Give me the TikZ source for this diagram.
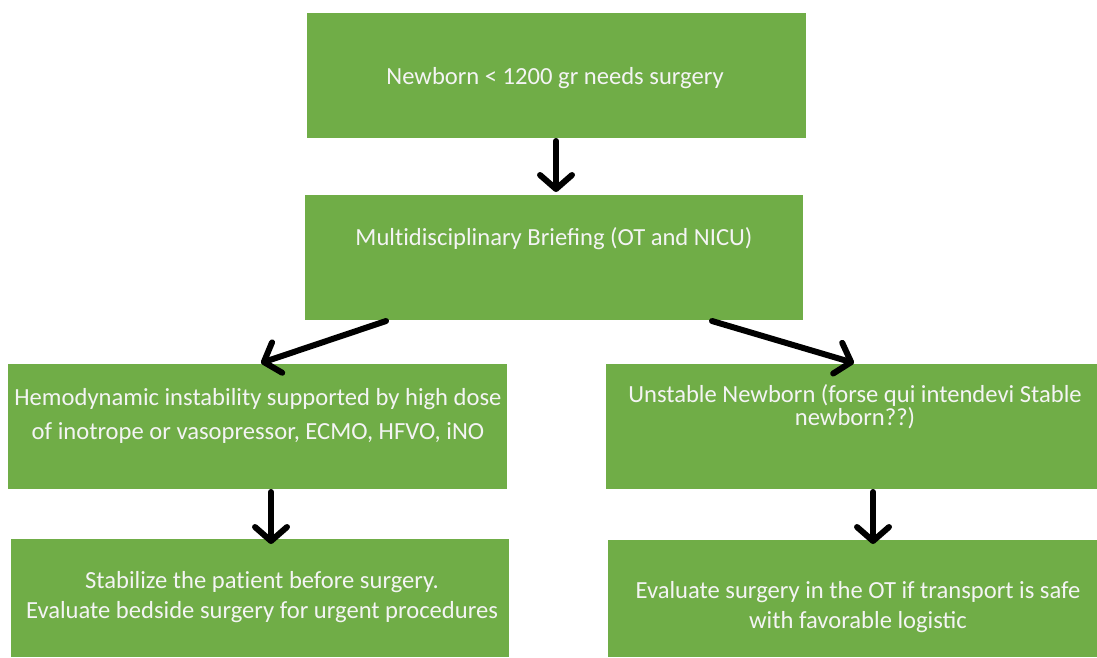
\documentclass[tikz,border=0pt]{standalone}
\usepackage{fontspec}
\setmainfont{Carlito}
\usetikzlibrary{arrows.meta,calc}
\definecolor{boxgreen}{HTML}{70AD47}
\definecolor{txt}{HTML}{F4F4F4}
\newcommand{\nl}{\kern0pt}
\tikzset{
  box/.style={fill=boxgreen, draw=none, inner sep=0pt, anchor=north west},
  lbl/.style={text=txt, align=center, font=\fontsize{24.6}{30}\selectfont, inner sep=0pt},
  flow/.style={line width=6pt, -{Straight Barb[length=14pt,width=32pt,line cap=round,line join=round]}, line cap=round}
}
\begin{document}
\begin{tikzpicture}[x=1pt,y=-1pt]
\useasboundingbox (0,0) rectangle (1097,657);
\node[box, minimum width=499pt, minimum height=125pt] (b1) at (307,13) {};
\node[box, minimum width=498pt, minimum height=125pt] (b2) at (305,195) {};
\node[box, minimum width=499pt, minimum height=125pt] (b3) at (8,364) {};
\node[box, minimum width=491pt, minimum height=125pt] (b4) at (606,364) {};
\node[box, minimum width=498pt, minimum height=118pt] (b5) at (11,539) {};
\node[box, minimum width=489pt, minimum height=117pt] (b6) at (608,540) {};

\node[lbl] (t1) at (555,78) {Newborn < 1200 gr needs surgery};
\node[lbl] (t2) at (554,239) {Mult\nl idisciplinary Briefing (OT and NICU)};
\node[lbl, font=\fontsize{24.6}{34}\selectfont] (t3) at (258,416) {Hemodynamic instability supported by high dose\\of inotrope or vasopressor, ECMO, HFVO, iNO};
\node[lbl, font=\fontsize{24.6}{20}\selectfont] (t4) at (855,407) {Unstable Newborn (forse qui intendevi Stable\\newborn??)};
\node[lbl] (t5) at (262,597) {Stabilize the pat\nl ient before surgery.\\Evaluate bedside surgery for urgent procedures};
\node[lbl] (t6) at (858,607) {Evaluate surgery in the OT if transport is safe\\with favorable logistic};

\coordinate (a1s) at (556,141);
\coordinate (a1e) at (556,192);
\coordinate (a2s) at (386,321);
\coordinate (a2e) at (261,363);
\coordinate (a3s) at (712,321);
\coordinate (a3e) at (854,363);
\coordinate (a4s) at (271,492);
\coordinate (a4e) at (271,544);
\coordinate (a5s) at (873,492);
\coordinate (a5e) at (873,544);
\draw[flow] (a1s) -- (a1e);
\draw[flow] (a2s) -- (a2e);
\draw[flow] (a3s) -- (a3e);
\draw[flow] (a4s) -- (a4e);
\draw[flow] (a5s) -- (a5e);
\end{tikzpicture}
\end{document}
